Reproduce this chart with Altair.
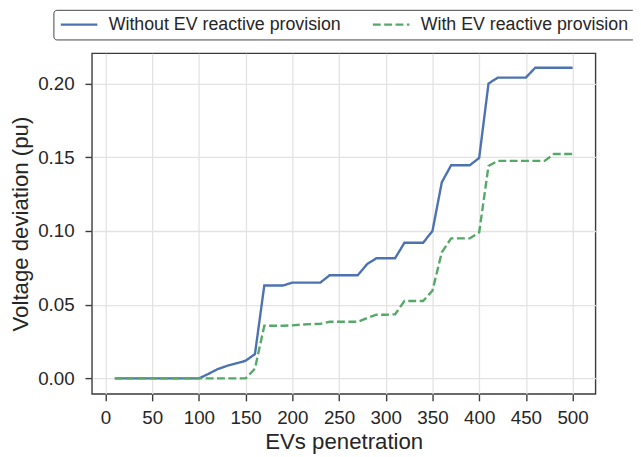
import altair as alt
import pandas as pd

evs = list(range(10, 510, 10))

without_ev = [0, 0, 0, 0, 0, 0, 0, 0, 0, 0,
              0.003, 0.0063, 0.0085, 0.0102, 0.012, 0.0165, 0.063, 0.063, 0.063, 0.065,
              0.065, 0.065, 0.065, 0.070, 0.070, 0.070, 0.070, 0.0775, 0.0815, 0.0815,
              0.0815, 0.092, 0.092, 0.092, 0.100, 0.133, 0.1446, 0.1446, 0.1446, 0.1495,
              0.200, 0.204, 0.204, 0.204, 0.204, 0.2107, 0.2107, 0.2107, 0.2107, 0.2107]

with_ev = [0, 0, 0, 0, 0, 0, 0, 0, 0, 0,
           0, 0, 0, 0, 0, 0.0067, 0.0357, 0.0357, 0.0357, 0.036,
           0.0365, 0.0368, 0.037, 0.0384, 0.0384, 0.0384, 0.0384, 0.041, 0.0432, 0.0432,
           0.0435, 0.0525, 0.0525, 0.0525, 0.0595, 0.0855, 0.095, 0.095, 0.095, 0.099,
           0.1441, 0.1475, 0.1475, 0.1475, 0.1475, 0.1475, 0.1475, 0.1522, 0.1522, 0.1522]

series_names = ["Without EV reactive provision", "With EV reactive provision"]
series_colors = ["#4C72B0", "#55A868"]

x_ticks = list(range(0, 550, 50))
y_ticks = [0.0, 0.05, 0.10, 0.15, 0.20]

df = pd.concat([
    pd.DataFrame({"evs": evs, "dev": without_ev, "series": series_names[0], "order": 0}),
    pd.DataFrame({"evs": evs, "dev": with_ev, "series": series_names[1], "order": 1}),
])

FONT = "Liberation Sans"
TXT = "#262626"
FRAME = "#3a3a3a"

legend = alt.Legend(
    title=None, orient="none", legendX=-39, legendY=-44, direction="horizontal",
    columns=2, symbolType="M-3,0H3", symbolSize=152, symbolStrokeWidth=2.3,
    symbolOffset=11, labelOffset=21,
    labelFontSize=18, labelFont=FONT, labelColor=TXT, labelLimit=400,
    padding=6, strokeColor="#444444", cornerRadius=3, fillColor="white",
    columnPadding=26, rowPadding=0,
)

chart = alt.Chart(df).mark_line(strokeWidth=2.4).encode(
    x=alt.X("evs:Q",
            scale=alt.Scale(domain=[-14.5, 524.5], nice=False, zero=False),
            axis=alt.Axis(values=x_ticks, title="EVs penetration", format="d",
                          labelPadding=8, titlePadding=3)),
    y=alt.Y("dev:Q",
            scale=alt.Scale(domain=[-0.0105, 0.2205], nice=False, zero=False),
            axis=alt.Axis(values=y_ticks, title="Voltage deviation (pu)", format=".2f",
                          labelPadding=11, titlePadding=5)),
    color=alt.Color("series:N", scale=alt.Scale(domain=series_names, range=series_colors),
                    legend=legend),
    strokeDash=alt.StrokeDash("series:N",
                              scale=alt.Scale(domain=series_names, range=[[1, 0], [8, 3.5]]),
                              legend=legend),
    order="order:Q",
).properties(
    width=510, height=345,
    autosize=alt.AutoSizeParams(type="none"),
    padding={"left": 85, "top": 43, "right": 38, "bottom": 58},
).configure_view(
    stroke=FRAME, strokeWidth=1.4
).configure_axis(
    domain=False, grid=True, gridColor="#e3e3e3", gridWidth=1.3,
    tickColor=FRAME, tickWidth=1.4, tickSize=7,
    labelFont=FONT, labelFontSize=19, labelColor=TXT,
    titleFont=FONT, titleFontSize=22.5, titleColor=TXT, titleFontWeight="normal",
)

chart.save("out.html", embed_options={"renderer": "svg", "actions": False})
